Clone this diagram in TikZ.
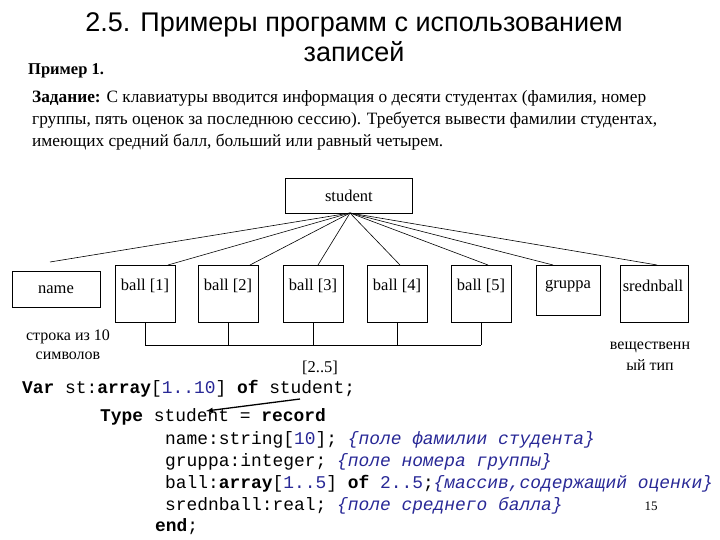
\documentclass[tikz,border=0pt]{standalone}
\usepackage{fontspec}
\usetikzlibrary{calc}
\setmainfont{Liberation Serif}
\setsansfont{Liberation Sans}
\setmonofont{Liberation Mono}
\begin{document}
\begin{tikzpicture}[x=1pt,y=-1pt,
  box/.style={draw,thick,inner sep=0,anchor=north west},
  lbl/.style={font=\fontsize{16.5}{19}\selectfont},
  ln/.style={line width=0.6pt},
  code/.style={anchor=base west,inner sep=0,font=\fontsize{17.9}{20}\ttfamily}]
\definecolor{codeblue}{RGB}{40,40,150}
\useasboundingbox (0,0) rectangle (720,540);
\node[font=\sffamily\fontsize{27}{30}\selectfont,align=center] (title) at (354,37) {2.5. Примеры программ с использованием\\записей};
\node[font=\bfseries\fontsize{16.5}{19}\selectfont,anchor=base west,inner sep=0] (ex) at (28,75) {Пример 1.};
\node[font=\fontsize{17.3}{22}\selectfont,anchor=north west,inner sep=0,align=left] (task) at (32,90)
 {\textbf{Задание:} С клавиатуры вводится информация о десяти студентах (фамилия, номер\\
 группы, пять оценок за последнюю сессию). Требуется вывести фамилии студентах,\\
 имеющих средний балл, больший или равный четырем.};
\node[box,minimum width=127,minimum height=35] (st) at (285,178) {};
\node at (st.center) [lbl] (stl) {student};
\node[box,minimum width=88,minimum height=36] (nm) at (12,271) {};
\node[lbl] at (56,290) (nml) {name};
\foreach \i/\x in {1/115,2/198,3/283,4/367,5/451}{
  \node[box,minimum width=60,minimum height=57] (b\i) at (\x,265) {};
  \node[lbl] at (\x+30,286) (bl\i) {ball [\i]};
}
\node[box,minimum width=64,minimum height=50] (gr) at (536,265) {};
\node[lbl] at (568,286) (grl) {gruppa};
\node[box,minimum width=68,minimum height=57] (sr) at (620,265) {};
\node[lbl] at (653,286) (srl) {srednball};
\coordinate (o) at (350,213);
\draw[ln] (o) -- (50,262);
\draw[ln] (o) -- ($(b1.north west)+(53,0)$);
\draw[ln] (o) -- ($(b2.north west)+(52,0)$);
\draw[ln] (o) -- ($(b3.north west)+(35,0)$);
\draw[ln] (o) -- ($(b4.north west)+(33,0)$);
\draw[ln] (o) -- ($(b5.north west)+(37,0)$);
\draw[ln] (o) -- ($(gr.north west)+(17,0)$);
\draw[ln] (o) -- ($(sr.north west)+(37,0)$);
\foreach \i in {1,...,5}{\draw[ln] (b\i.south) -- (b\i.south |- 0,345);}
\draw[ln] (b1.south |- 0,345) -- (b5.south |- 0,345);
\node[font=\fontsize{16}{19}\selectfont,align=center] (s10) at (68,345) {строка из 10\\символов};
\node[font=\fontsize{16}{21}\selectfont,align=center] (vt) at (650,356) {вещественн\\ый тип};
\node[lbl] (r25) at (320,368) {[2..5]};
\node[code] (var) at (22,393) {\textbf{Var} st:\textbf{array}[{\color{codeblue}1..10}] \textbf{of} student;};
\node[code] (ty) at (100,421) {\textbf{Type} student = \textbf{record}};
\node[code] (l1) at (165,444) {name:string[{\color{codeblue}10}]; {\color{codeblue}\itshape\{поле фамилии студента\}}};
\node[code] (l2) at (165,466) {gruppa:integer; {\color{codeblue}\itshape\{поле номера группы\}}};
\node[code] (l3) at (165,488) {ball:\textbf{array}[{\color{codeblue}1..5}] \textbf{of} {\color{codeblue}2..5};{\color{codeblue}\itshape\{массив,содержащий оценки\}}};
\node[code] (l4) at (165,510) {srednball:real; {\color{codeblue}\itshape\{поле среднего балла\}}};
\node[code] (en) at (155,531) {\textbf{end};};
\node[font=\fontsize{13}{15}\selectfont] (pg) at (651,506) {15};
\coordinate (a0) at (300,399);
\coordinate (a1) at (206,411);
\draw[line width=1.3pt,-latex] (a0) -- (a1);
\end{tikzpicture}
\end{document}
